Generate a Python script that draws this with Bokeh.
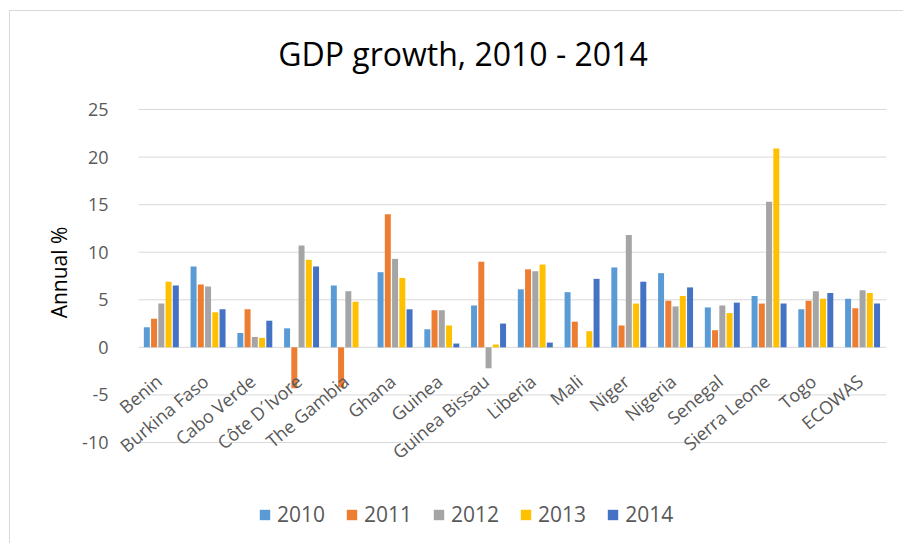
import numpy as np
from bokeh.plotting import figure
from bokeh.models import (ColumnDataSource, Range1d, FixedTicker, Label, LabelSet,
                          Legend, LegendItem)
from bokeh.core.properties import value
from bokeh.transform import dodge
from bokeh.embed import file_html
from bokeh.resources import INLINE

# ---- data ----
categories = ["Benin", "Burkina Faso", "Cabo Verde", "Côte D´Ivore", "The Gambia",
              "Ghana", "Guinea", "Guinea Bissau", "Liberia", "Mali", "Niger",
              "Nigeria", "Senegal", "Sierra Leone", "Togo", "ECOWAS"]
years = ["2010", "2011", "2012", "2013", "2014"]
g2010 = [2.1, 8.5, 1.5, 2.0, 6.5, 7.9, 1.9, 4.4, 6.1, 5.8, 8.4, 7.8, 4.2, 5.4, 4.0, 5.1]
g2011 = [3.0, 6.6, 4.0, -4.3, -4.2, 14.0, 3.9, 9.0, 8.2, 2.7, 2.3, 4.9, 1.8, 4.6, 4.9, 4.1]
g2012 = [4.6, 6.4, 1.1, 10.7, 5.9, 9.3, 3.9, -2.2, 8.0, np.nan, 11.8, 4.3, 4.4, 15.3, 5.9, 6.0]
g2013 = [6.9, 3.7, 1.0, 9.2, 4.8, 7.3, 2.3, 0.3, 8.7, 1.7, 4.6, 5.4, 3.6, 20.9, 5.1, 5.7]
g2014 = [6.5, 4.0, 2.8, 8.5, np.nan, 4.0, 0.4, 2.5, 0.5, 7.2, 6.9, 6.3, 4.7, 4.6, 5.7, 4.6]
y_ticks = [-10, -5, 0, 5, 10, 15, 20, 25]
title_text = "GDP growth, 2010 - 2014"
y_title = "Annual %"

colors = ["#5B9BD5", "#ED7D31", "#A5A5A5", "#FFC000", "#4472C4"]
series = [g2010, g2011, g2012, g2013, g2014]

FONT = "Open Sans"
GRAY = "#595959"
N = len(categories)

src = ColumnDataSource(dict(
    x=np.arange(N) + 0.5,
    y0=np.zeros(N),
    cat=categories,
    **{f"y{yr}": np.array(s, dtype=float) for yr, s in zip(years, series)}
))

W, H = 894, 533
# frame extended around the plotting area so title, labels and legend inside it are not clipped
p = figure(width=W, height=H, output_backend="svg", toolbar_location=None,
           x_axis_location=None,
           x_range=Range1d(-0.492, N), y_range=Range1d(-19.46, 35.195),
           min_border_left=105, min_border_right=18, min_border_top=1,
           min_border_bottom=12)
p.styles = {"margin-left": "9px", "margin-top": "10px",
            "border-left": "1px solid #D9D9D9", "border-top": "1px solid #D9D9D9"}
p.outline_line_color = None
p.background_fill_color = "white"
p.border_fill_color = "white"

# horizontal gridlines across the category area
p.segment(x0=0, x1=N, y0=y_ticks, y1=y_ticks, line_color="#D9D9D9", line_width=1)

offsets = [-0.31, -0.155, 0.0, 0.155, 0.31]
renderers = []
for yr, c, off in zip(years, colors, offsets):
    r = p.vbar(x=dodge("x", off - 0.012, range=p.x_range), top=f"y{yr}", bottom=0,
               width=0.128, source=src, fill_color=c, line_color=None)
    renderers.append(r)

# axes
p.xgrid.visible = False
p.ygrid.visible = False
p.yaxis.ticker = FixedTicker(ticks=y_ticks)
p.yaxis.axis_line_color = None
p.yaxis.major_tick_line_color = None
p.yaxis.minor_tick_line_color = None
p.yaxis.major_label_text_color = GRAY
p.yaxis.major_label_text_font = FONT
p.yaxis.major_label_text_font_size = "18px"
p.yaxis.major_label_standoff = 1
p.yaxis.major_label_overrides = {t: str(t) for t in y_ticks}
p.yaxis.axis_label = y_title
p.yaxis.axis_label_text_font = FONT
p.yaxis.axis_label_text_font_size = "21px"
p.yaxis.axis_label_text_font_style = "normal"
p.yaxis.axis_label_text_color = "black"
p.yaxis.axis_label_standoff = 6

# category labels at zero line
labels = LabelSet(x="x", y="y0", text="cat", source=src, angle=np.deg2rad(40),
                  text_align="right", text_baseline="middle", x_offset=-3, y_offset=-31,
                  text_font=value(FONT), text_font_size="18px", text_color=GRAY)
p.add_layout(labels)

# title
p.add_layout(Label(x=6.94, y=30.9, text=title_text, text_align="center",
                   text_baseline="middle", text_font=FONT, text_font_size="32px",
                   text_color="black"))

legend = Legend(items=[LegendItem(label=yr, renderers=[r]) for yr, r in zip(years, renderers)],
                orientation="horizontal", location=(143, 4),
                label_text_font=FONT, label_text_font_size="21px", label_text_color=GRAY,
                glyph_width=13, glyph_height=13, label_standoff=6, spacing=20,
                padding=0, margin=0, border_line_color=None, background_fill_alpha=0)
p.add_layout(legend)

open("out.html", "w").write(file_html(p, INLINE))
